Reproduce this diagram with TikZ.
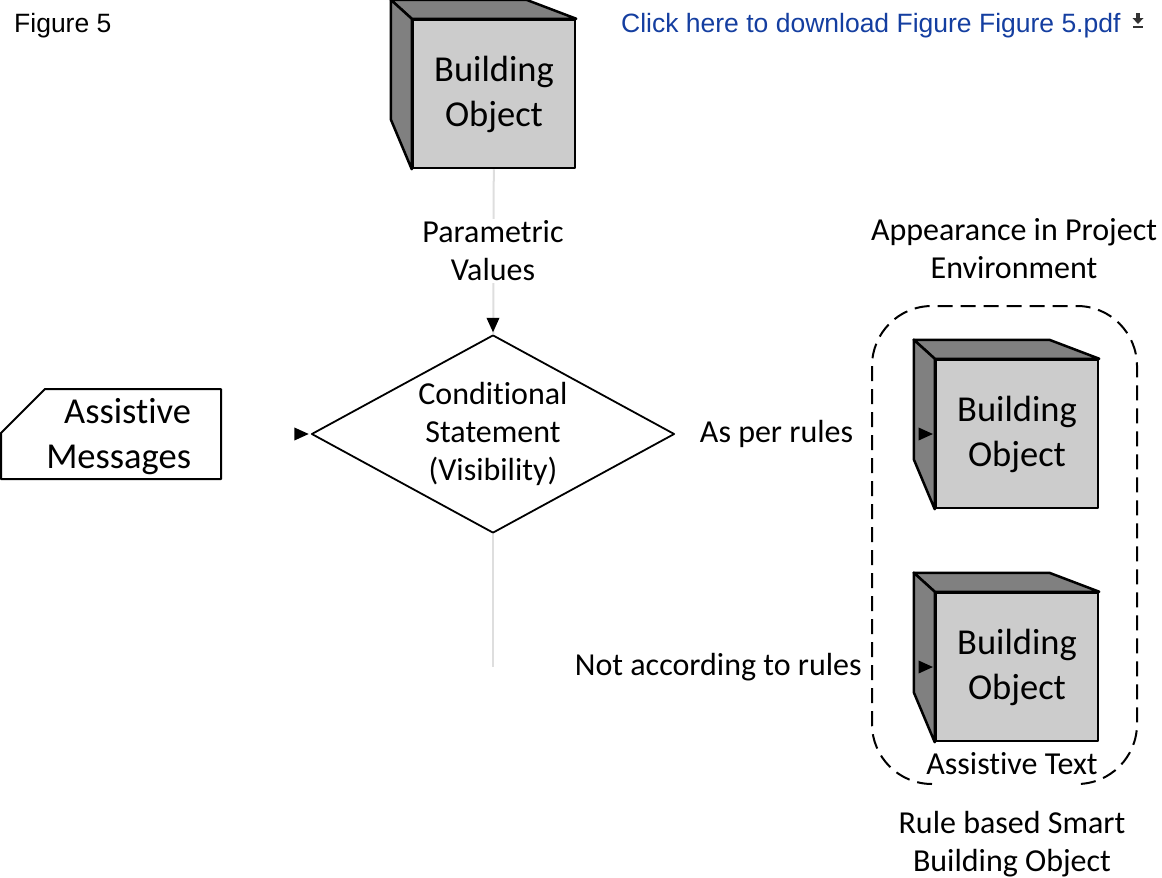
\documentclass[tikz,border=0pt]{standalone}
\usepackage{fontspec}
\setmainfont[Ligatures={NoCommon}]{Carlito}
\newfontfamily\headfont{Liberation Sans}
\usepackage{tikz}
\usepackage{xcolor}
\usetikzlibrary{shapes.geometric, arrows.meta, positioning, calc}

\definecolor{linkblue}{RGB}{20,62,160}

\begin{document}
\begin{tikzpicture}[x=1pt, y=-1pt, line join=round,
  bigtxt/.style={font=\fontsize{36.5}{45}\selectfont},
  smalltxt/.style={font=\fontsize{32}{38}\selectfont},
  cubefront/.style={draw, line width=2.5pt, fill=black!20, minimum width=162pt, minimum height=148pt, inner sep=0pt, align=center, bigtxt},
  sideface/.style={draw, line width=2.5pt, fill=black!50},
  decision/.style={diamond, draw, line width=1.8pt, minimum width=363pt, minimum height=198pt, aspect=1.83, inner sep=0pt, align=center, smalltxt},
  lbl/.style={fill=white, inner sep=2pt, align=center, smalltxt},
  tip/.style={-{Triangle[length=17pt, width=15pt, color=black, fill=black]}},
  link/.style={draw=black!13, line width=2pt},
  hidden/.style={draw=black, draw opacity=0, line width=1.5pt, tip},
  container/.style={draw, line width=2pt, dash pattern=on 15pt off 8pt}]
\useasboundingbox (0,0) rectangle (1162,878);

% Header
\node[anchor=base west, inner sep=0pt, font=\headfont\fontsize{26.5}{30}\selectfont] (fig) at (14,32) {Figure 5};
\node[anchor=base west, inner sep=0pt, text=linkblue, font=\headfont\fontsize{26.5}{30}\selectfont] (dl) at (621,32) {Click here to download Figure Figure 5.pdf};
\fill[black!80] (1136,13) rectangle (1140,18);
\fill[black!80] (1132.5,18) -- (1143.5,18) -- (1138,24) -- cycle;
\fill[black!80] (1133,25.5) rectangle (1143,27.5);

% Cubes (front faces)
\node[cubefront] (obj) at (494,94) {Building\\Object};
\node[cubefront] (ok) at (1017,434) {Building\\Object};
\node[cubefront] (notok) at (1017,667) {Building\\Object};
\foreach \c in {obj, ok, notok} {
  \draw[sideface] (\c.north west) -- ++(-21,-19) -- ($(\c.north east)+(-50,-19)$) -- (\c.north east) -- cycle;
  \draw[sideface] (\c.north west) -- ++(-21,-19) -- ($(\c.south west)+(-21,-50)$) -- (\c.south west) -- cycle;
}

% Decision and messages
\node[decision] (cond) at (493,434) {Conditional\\Statement\\(Visibility)};
\node[minimum width=221pt, minimum height=90pt, inner sep=0pt, text width=161pt, align=right, bigtxt] (msg) at (110.5,437) {Assistive\\Messages};
\draw[line width=2pt] (45,389) -- (221,389) -- (221,479) -- (1,479) -- (1,433) -- cycle;

% Connectors
\coordinate (bend) at (493,667);
\draw[link] (obj) -- (cond);
\draw[hidden] ($(cond.north)+(0,-18)$) -- (cond.north);
\node[lbl] (param) at (493,251) {Parametric\\Values};
\draw[link] (cond) -- (bend);
\draw[hidden] (msg.east |- cond) -- (cond);
\draw[hidden] (cond) -- (ok) node[lbl, pos=0.39] (rules) {As per rules};
\draw[hidden] (bend) -- (notok) node[lbl, pos=0.51] (norules) {Not according to rules};

% Project environment
\draw[container, rounded corners=60] (932,784) -- (872,784) -- (872,306) -- (1137,306) -- (1137,784) -- (1077,784);
\node[lbl] (env) at (1014,249) {Appearance in Project\\Environment};
\node[lbl, fill=none] (atext) at (1012,764) {Assistive Text};
\node[lbl] (smart) at (1012,844) {Rule based Smart\\Building Object};
\end{tikzpicture}
\end{document}
